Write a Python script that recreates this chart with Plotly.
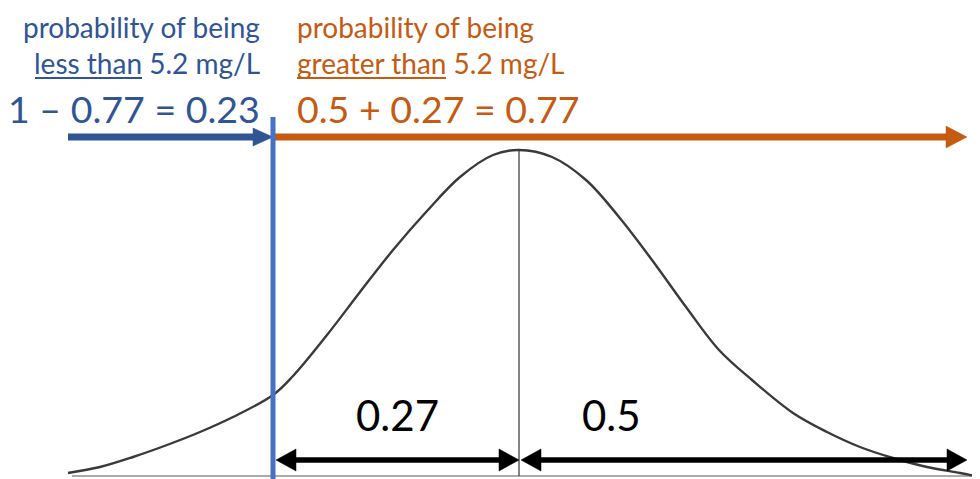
import plotly.graph_objects as go

# curve (pixel space, y grows downward)
curve_x = [68, 100, 133, 167, 200, 233, 273, 293, 327, 360, 393, 427, 460, 493, 519,
           552, 586, 619, 652, 686, 719, 752, 793, 827, 860, 893, 927, 960, 980]
curve_y = [473, 467, 457, 445, 432, 417, 395, 376, 335, 292, 250, 211, 177, 155, 150,
           157, 180, 217, 260, 307, 350, 380, 413, 432, 447, 458, 467, 473, 477]

mean_x = 519
cut_x = 273
area_labels = ["0.27", "0.5"]
left_lines = ["probability of being", "less than 5.2 mg/L", "1 \u2013 0.77 = 0.23"]
right_lines = ["probability of being", "greater than 5.2 mg/L", "0.5 + 0.27 = 0.77"]

BLUE = '#2F5597'
BLUE_LINE = '#4472C4'
ORANGE = '#C55A11'
FONT = 'Lato'
PAGE_PAD = 8  # default body margin of the html page

fig = go.Figure()

# baseline
fig.add_trace(go.Scatter(x=[72, 980], y=[476, 476], mode='lines', line=dict(color='#595959', width=1.2),
                         hoverinfo='none'))
# normal curve
fig.add_trace(go.Scatter(x=curve_x, y=curve_y, mode='lines', line=dict(color='#3a3a3a', width=2.4, shape='spline'),
                         hoverinfo='none'))
# mean line
fig.add_trace(go.Scatter(x=[mean_x, mean_x], y=[150, 476], mode='lines', line=dict(color='#333333', width=1.2),
                         hoverinfo='none'))


def head(tip, y, direction, color, length, half):
    # filled triangle, direction +1 points right, -1 points left
    base = tip - direction * length
    fig.add_trace(go.Scatter(x=[tip, base, base, tip], y=[y, y - half, y + half, y], mode='lines',
                             fill='toself', fillcolor=color, line=dict(color=color, width=0.5),
                             hoverinfo='none'))


def arrow(x0, x1, y, color, width, length, half, both=False):
    start = x0 + (length - 2 if both else 0)
    fig.add_trace(go.Scatter(x=[start, x1 - length + 2], y=[y, y], mode='lines',
                             line=dict(color=color, width=width), hoverinfo='none'))
    head(x1, y, 1, color, length, half)
    if both:
        head(x0, y, -1, color, length, half)


# probability arrows
arrow(68, cut_x, 137, BLUE, 7, 20, 9)
arrow(cut_x + 2, 967, 137, ORANGE, 7, 21, 11)
# area arrows
arrow(cut_x + 3, mean_x, 460, 'black', 5.5, 20, 11, both=True)
arrow(mean_x + 2, 967, 460, 'black', 5.5, 20, 11, both=True)

# cut line
fig.add_trace(go.Scatter(x=[cut_x, cut_x], y=[117, 479], mode='lines', line=dict(color=BLUE_LINE, width=5),
                         hoverinfo='none'))

for txt, y, size in zip(left_lines, [27, 63, 108], [28, 28, 37.5]):
    fig.add_annotation(x=262, y=y, text=txt, showarrow=False, xanchor='right', yanchor='middle',
                       font=dict(family=FONT, size=size, color=BLUE))
for txt, y, size in zip(right_lines, [27, 63, 108], [28, 28, 37.5]):
    fig.add_annotation(x=295, y=y, text=txt, showarrow=False, xanchor='left', yanchor='middle',
                       font=dict(family=FONT, size=size, color=ORANGE))
for txt, x in zip(area_labels, [397, 611]):
    fig.add_annotation(x=x, y=415, text=txt, showarrow=False, xanchor='center', yanchor='middle',
                       font=dict(family=FONT, size=42, color='black'))

# underlines under "less than" / "greater than"
fig.add_shape(type='line', x0=35, x1=142, y0=78, y1=78, line=dict(color=BLUE, width=1.8))
fig.add_shape(type='line', x0=297, x1=446, y0=78, y1=78, line=dict(color=ORANGE, width=1.8))

fig.update_layout(
    width=980 - PAGE_PAD, height=479 - PAGE_PAD, showlegend=False, margin=dict(l=0, r=0, t=0, b=0),
    plot_bgcolor='white', paper_bgcolor='white',
    xaxis=dict(range=[PAGE_PAD, 980], visible=False, fixedrange=True),
    yaxis=dict(range=[479, PAGE_PAD], visible=False, fixedrange=True),
)
fig.write_html("out.html")
